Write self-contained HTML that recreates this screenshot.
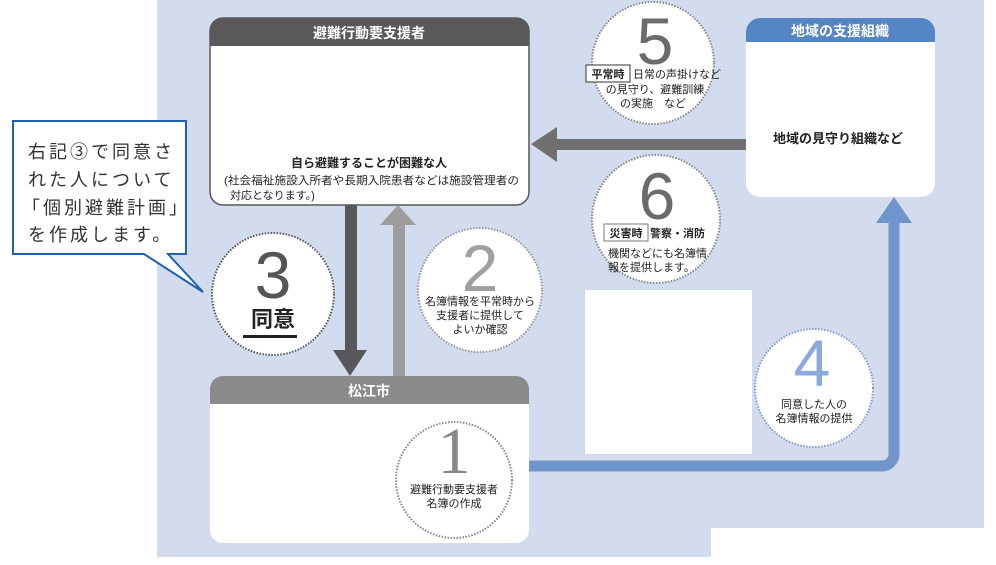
<!DOCTYPE html>
<html><head><meta charset="utf-8"><style>
body{margin:0;background:#fff;}
svg{display:block;font-family:"Liberation Sans","Noto Sans CJK JP",sans-serif;}
</style></head><body>
<svg width="996" height="565" viewBox="0 0 996 565" xmlns="http://www.w3.org/2000/svg">
<rect x="157" y="0" width="827" height="557" fill="#d3dcee"/>
<rect x="711" y="528" width="285" height="37" fill="#fff"/>

<!-- top box -->
<rect x="210" y="18" width="319" height="187" rx="13" fill="#fff" stroke="#5a5859" stroke-width="1.5"/>
<path d="M210 46 V31 a13 13 0 0 1 13 -13 H516 a13 13 0 0 1 13 13 V46 Z" fill="#5a5859"/>
<text x="369" y="38" fill="#fff" font-size="14" font-weight="bold" text-anchor="middle">避難行動要支援者</text>
<text x="369" y="167" fill="#222" font-size="12" font-weight="bold" text-anchor="middle">自ら避難することが困難な人</text>
<text x="224" y="184" fill="#222" font-size="11" textLength="295" lengthAdjust="spacingAndGlyphs">(社会福祉施設入所者や長期入院患者などは施設管理者の</text>
<text x="230" y="199" fill="#222" font-size="11">対応となります。)</text>

<!-- bottom box -->
<rect x="210" y="376" width="319" height="167" rx="13" fill="#fff"/>
<path d="M210 404 V389 a13 13 0 0 1 13 -13 H516 a13 13 0 0 1 13 13 V404 Z" fill="#8a8a8a"/>
<text x="369" y="396" fill="#fff" font-size="14" font-weight="bold" text-anchor="middle">松江市</text>

<!-- right box -->
<rect x="746" y="18" width="189" height="179" rx="14" fill="#fff"/>
<path d="M746 42 V32 a14 14 0 0 1 14 -14 H921 a14 14 0 0 1 14 14 V42 Z" fill="#5585c5"/>
<text x="840" y="36" fill="#fff" font-size="14" font-weight="bold" text-anchor="middle">地域の支援組織</text>
<text x="838" y="143" fill="#222" font-size="13" font-weight="bold" text-anchor="middle">地域の見守り組織など</text>

<!-- arrows -->
<rect x="345" y="205" width="12" height="148" fill="#58575a"/>
<polygon points="333,350 367,350 350,376" fill="#58575a"/>
<rect x="393" y="223" width="12" height="153" fill="#9d9d9d"/>
<polygon points="380,225 416,225 398,205" fill="#9d9d9d"/>
<rect x="555" y="139" width="191" height="11" fill="#707070"/>
<polygon points="557,127 557,162 531,144" fill="#707070"/>
<path d="M529 466 H882 a12 12 0 0 0 12 -12 V220" fill="none" stroke="#7095cc" stroke-width="11"/>
<polygon points="876,223 912,223 894,197" fill="#7095cc"/>

<rect x="585" y="290" width="167" height="164" fill="#fff"/>

<!-- callout -->
<path d="M13 121 H186 V254 H168 L203 292 L144 254 H13 Z" fill="#fff" stroke="#1f62b0" stroke-width="2"/>
<text font-size="18" fill="#333" letter-spacing="3"><tspan x="28" y="158">右記③で同意さ</tspan><tspan x="28" y="186">れた人について</tspan><tspan x="22" y="214">「個別避難計画」</tspan><tspan x="28" y="241">を作成します。</tspan></text>

<!-- circles -->
<g fill="#fff" stroke="#888" stroke-width="2" stroke-dasharray="1.5 1.5">
<circle cx="653" cy="63" r="61"/>
<circle cx="656" cy="219" r="64"/>
<circle cx="273" cy="294" r="61" stroke="#555"/>
<circle cx="480" cy="290" r="62" stroke="#999"/>
<circle cx="454" cy="480" r="58"/>
<circle cx="814" cy="388" r="59" stroke="#7f9fd4"/>
</g>

<g font-size="66" fill="#6b6b6b" text-anchor="middle">
<text x="655" y="64">5</text>
<text x="657" y="219">6</text>
<text x="273" y="298" fill="#555">3</text>
<text x="480" y="291" fill="#a0a0a0">2</text>
<text x="454" y="473" font-family="Liberation Serif,serif" fill="#888">1</text>
<text x="812" y="386" fill="#8aaadb">4</text>
</g>

<rect x="586" y="65" width="44" height="17" fill="#fff" stroke="#333" stroke-width="1"/>
<text x="608" y="78" font-size="11" font-weight="bold" text-anchor="middle" fill="#222">平常時</text>
<text x="633" y="78" font-size="11" fill="#222">日常の声掛けなど</text>
<text x="655" y="93" font-size="11" fill="#222" text-anchor="middle">の見守り、避難訓練</text>
<text x="653" y="107" font-size="11" fill="#222" text-anchor="middle">の実施　など</text>

<rect x="604" y="224" width="44" height="17" fill="#fff" stroke="#777" stroke-width="1"/>
<text x="626" y="237" font-size="11" font-weight="bold" text-anchor="middle" fill="#222">災害時</text>
<text x="650" y="237" font-size="11" font-weight="bold" fill="#222">警察・消防</text>
<text x="608" y="257" font-size="11" fill="#222">機関などにも名簿情</text>
<text x="608" y="271" font-size="11" fill="#222">報を提供します。</text>

<text x="273" y="327" font-size="22" font-weight="bold" fill="#222" text-anchor="middle">同意</text>
<rect x="243" y="335" width="54" height="3" fill="#222"/>

<g font-size="11" fill="#222" text-anchor="middle">
<text x="480" y="305">名簿情報を平常時から</text>
<text x="480" y="319">支援者に提供して</text>
<text x="480" y="333">よいか確認</text>
<text x="454" y="493">避難行動要支援者</text>
<text x="454" y="507">名簿の作成</text>
<text x="814" y="408">同意した人の</text>
<text x="814" y="422">名簿情報の提供</text>
</g>
</svg>
</body></html>
